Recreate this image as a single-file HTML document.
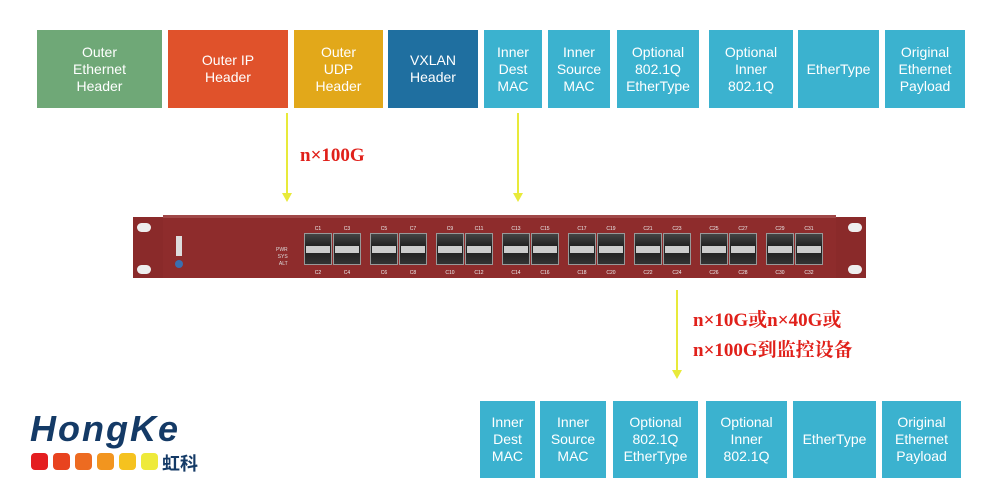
<!DOCTYPE html><html><head><meta charset="utf-8"><style>
body{margin:0;width:1000px;height:500px;background:#fff;position:relative;overflow:hidden;font-family:"Liberation Sans","Noto Sans CJK SC",sans-serif}
.b{position:absolute;color:#fff;font-size:14px;line-height:17px;display:flex;align-items:center;justify-content:center;text-align:center}
.t{background:#3bb2cf}
.ln{position:absolute;width:2px;background:#e8ea3a}
.ah{position:absolute;width:0;height:0;border-left:5px solid transparent;border-right:5px solid transparent;border-top:9px solid #e8ea3a}
.rt{position:absolute;color:#e0201a;font-family:"Liberation Serif","Noto Serif CJK SC",serif;font-size:19px;font-weight:bold}
.p{position:absolute;width:28px;height:32px;background:linear-gradient(#444,#222 40%,#222 60%,#333);border:1px solid #999;box-sizing:border-box}
.p i{position:absolute;left:1px;right:1px;top:12px;height:7px;background:#ccc}
.l{position:absolute;color:#eee;font-size:5px;width:28px;text-align:center}
</style></head><body>
<div class="b" style="left:37px;top:30px;width:125px;height:78px;background:#6fa877">Outer<br>Ethernet<br>Header</div>
<div class="b" style="left:168px;top:30px;width:120px;height:78px;background:#e0522b">Outer IP<br>Header</div>
<div class="b" style="left:294px;top:30px;width:89px;height:78px;background:#e2a81a">Outer<br>UDP<br>Header</div>
<div class="b" style="left:388px;top:30px;width:90px;height:78px;background:#1f6fa0">VXLAN<br>Header</div>
<div class="b t" style="left:484px;top:30px;width:58px;height:78px">Inner<br>Dest<br>MAC</div>
<div class="b t" style="left:548px;top:30px;width:62px;height:78px">Inner<br>Source<br>MAC</div>
<div class="b t" style="left:617px;top:30px;width:82px;height:78px">Optional<br>802.1Q<br>EtherType</div>
<div class="b t" style="left:709px;top:30px;width:84px;height:78px">Optional<br>Inner<br>802.1Q</div>
<div class="b t" style="left:798px;top:30px;width:81px;height:78px">EtherType</div>
<div class="b t" style="left:885px;top:30px;width:80px;height:78px">Original<br>Ethernet<br>Payload</div>

<div class="b t" style="left:480px;top:401px;width:55px;height:77px">Inner<br>Dest<br>MAC</div>
<div class="b t" style="left:540px;top:401px;width:66px;height:77px">Inner<br>Source<br>MAC</div>
<div class="b t" style="left:613px;top:401px;width:85px;height:77px">Optional<br>802.1Q<br>EtherType</div>
<div class="b t" style="left:706px;top:401px;width:81px;height:77px">Optional<br>Inner<br>802.1Q</div>
<div class="b t" style="left:793px;top:401px;width:83px;height:77px">EtherType</div>
<div class="b t" style="left:882px;top:401px;width:79px;height:77px">Original<br>Ethernet<br>Payload</div>

<div class="ln" style="left:286px;top:113px;height:82px"></div><div class="ah" style="left:282px;top:193px"></div>
<div class="ln" style="left:517px;top:113px;height:82px"></div><div class="ah" style="left:513px;top:193px"></div>
<div class="ln" style="left:676px;top:290px;height:82px"></div><div class="ah" style="left:672px;top:370px"></div>
<div class="rt" style="left:300px;top:145px">n×100G</div>
<div class="rt" style="left:693px;top:305px">n×10G或n×40G或</div>
<div class="rt" style="left:693px;top:335px">n×100G到监控设备</div>

<div style="position:absolute;left:133px;top:217px;width:30px;height:61px;background:#8a2a2a"></div>
<div style="position:absolute;left:836px;top:217px;width:30px;height:61px;background:#8a2a2a"></div>
<div style="position:absolute;left:163px;top:215px;width:673px;height:63px;background:#8e2c2c;border-top:3px solid #a04848;box-sizing:border-box"></div>
<div style="position:absolute;left:137px;top:223px;width:14px;height:9px;border-radius:5px;background:#eee"></div>
<div style="position:absolute;left:137px;top:265px;width:14px;height:9px;border-radius:5px;background:#eee"></div>
<div style="position:absolute;left:848px;top:223px;width:14px;height:9px;border-radius:5px;background:#eee"></div>
<div style="position:absolute;left:848px;top:265px;width:14px;height:9px;border-radius:5px;background:#eee"></div>
<div style="position:absolute;left:176px;top:236px;width:6px;height:20px;background:#ddd"></div>
<div style="position:absolute;left:175px;top:260px;width:8px;height:8px;border-radius:4px;background:#3a6fb0"></div>
<div style="position:absolute;left:276px;top:247px;color:#ddd;font-size:5px;line-height:7px;text-align:right">PWR<br>SYS<br>ALT</div>
<div id="ports"></div>
<script>
var h='';for(var g=0;g<8;g++)for(var k=0;k<2;k++){var x=304+g*66+k*29;var n=g*4+k*2+1;
h+='<div class="p" style="left:'+x+'px;top:233px"><i></i></div><div class="l" style="left:'+x+'px;top:226px">C'+n+'</div><div class="l" style="left:'+x+'px;top:270px">C'+(n+1)+'</div>';}
document.getElementById('ports').innerHTML=h;
</script>

<div style="position:absolute;left:30px;top:408px;font-family:'Liberation Sans',sans-serif;font-weight:bold;font-style:italic;font-size:36px;color:#143a66;letter-spacing:2px">HongKe</div>
<div style="position:absolute;left:31px;top:453px;width:17px;height:17px;border-radius:4px;background:#e41e20"></div>
<div style="position:absolute;left:53px;top:453px;width:17px;height:17px;border-radius:4px;background:#e8431f"></div>
<div style="position:absolute;left:75px;top:453px;width:17px;height:17px;border-radius:4px;background:#ed6b21"></div>
<div style="position:absolute;left:97px;top:453px;width:17px;height:17px;border-radius:4px;background:#f2951f"></div>
<div style="position:absolute;left:119px;top:453px;width:17px;height:17px;border-radius:4px;background:#f5c21f"></div>
<div style="position:absolute;left:141px;top:453px;width:17px;height:17px;border-radius:4px;background:#eeea3a"></div>
<div style="position:absolute;left:162px;top:450px;font-size:18px;font-weight:bold;color:#143a66">虹科</div>
</body></html>
